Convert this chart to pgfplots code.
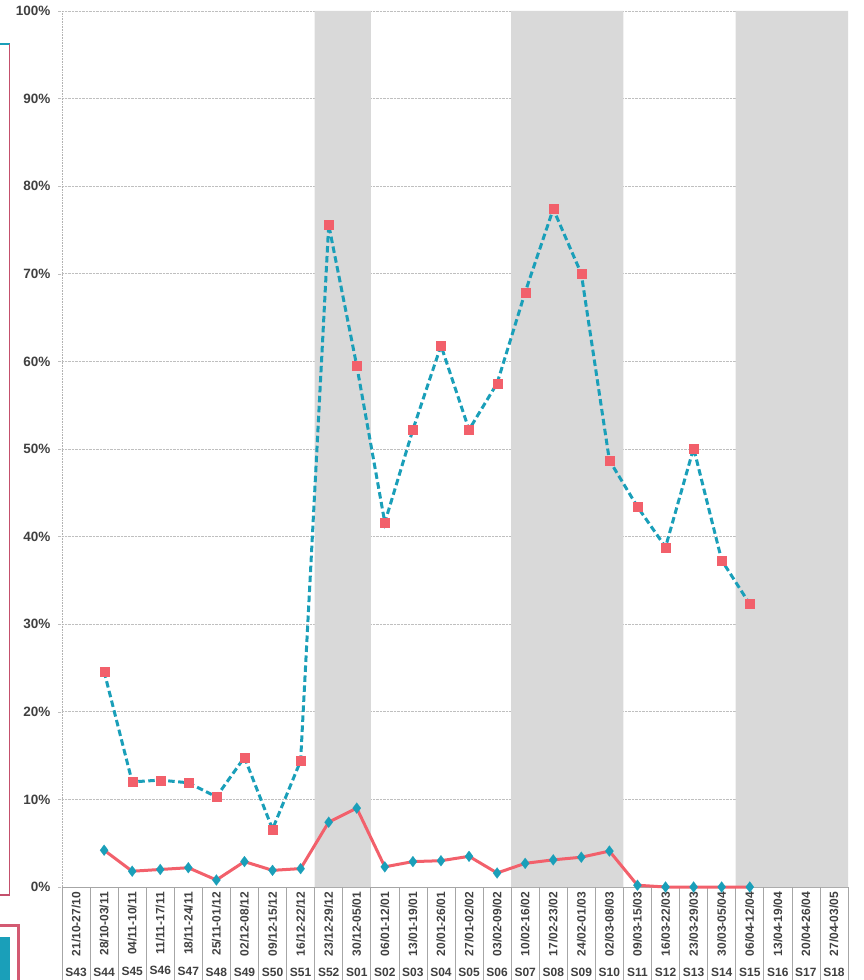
\documentclass[border=0pt]{standalone}
\usepackage{pgfplots}
\pgfplotsset{compat=1.18}
\usepackage{fontspec}
\setmainfont{Liberation Sans}
\definecolor{tealc}{HTML}{1A9FB9}
\definecolor{coral}{HTML}{F2606B}
\definecolor{band}{HTML}{D9D9D9}
\definecolor{pinkb}{HTML}{C4506C}
\definecolor{pinkc}{HTML}{D35A72}
\definecolor{txt}{HTML}{404040}
\begin{document}
\begin{tikzpicture}[x=1pt,y=1pt]
\useasboundingbox (0,0) rectangle (863,980);
% fragments of neighbouring boxes, cut off at the left edge
\draw[tealc, line width=1.5pt] (0,936) -- (9.5,936);
\draw[pinkb, line width=1.5pt] (9.5,936) -- (9.5,85) -- (0,85);
\fill[tealc] (0,0) rectangle (10,43);
\draw[pinkc, line width=3pt] (0,54) -- (18.5,54) -- (18.5,0);
\begin{axis}[
    at={(62pt,93pt)}, anchor=south west,
    scale only axis,
    width=786pt, height=876pt,
    xmin=-0.5, xmax=27.5,
    ymin=0, ymax=100,
    clip=false,
    axis lines=left,
    x axis line style={-, gray!70, line width=0.8pt},
    y axis line style={-, gray!60, densely dotted, line width=0.6pt},
    ytick={0,10,...,100},
    yticklabels={0\%,10\%,20\%,30\%,40\%,50\%,60\%,70\%,80\%,90\%,100\%},
    xmajorgrids=false, xminorgrids=false,
    ymajorgrids=true,
    y grid style={gray!50, densely dotted, line width=0.6pt},
    y tick label style={font=\fontsize{13.5}{14}\selectfont\bfseries, text=txt, xshift=-4pt},
    major y tick style={gray!50, densely dotted},
    tick align=outside,
    major tick length=4pt,
    xtick={0,...,27},
    major x tick style={draw=none},
    x tick label style={font=\fontsize{12}{12.5}\selectfont\bfseries, text=txt, align=center, anchor=north, inner sep=0pt, yshift=-1pt},
    xticklabels={
      {\rotatebox{90}{21/10-27/10}\\[8pt]S43},
      {\rotatebox{90}{28/10-03/11}\\[8pt]S44},
      {\rotatebox{90}{04/11-10/11}\\[8pt]S45},
      {\rotatebox{90}{11/11-17/11}\\[8pt]S46},
      {\rotatebox{90}{18/11-24/11}\\[8pt]S47},
      {\rotatebox{90}{25/11-01/12}\\[8pt]S48},
      {\rotatebox{90}{02/12-08/12}\\[8pt]S49},
      {\rotatebox{90}{09/12-15/12}\\[8pt]S50},
      {\rotatebox{90}{16/12-22/12}\\[8pt]S51},
      {\rotatebox{90}{23/12-29/12}\\[8pt]S52},
      {\rotatebox{90}{30/12-05/01}\\[8pt]S01},
      {\rotatebox{90}{06/01-12/01}\\[8pt]S02},
      {\rotatebox{90}{13/01-19/01}\\[8pt]S03},
      {\rotatebox{90}{20/01-26/01}\\[8pt]S04},
      {\rotatebox{90}{27/01-02/02}\\[8pt]S05},
      {\rotatebox{90}{03/02-09/02}\\[8pt]S06},
      {\rotatebox{90}{10/02-16/02}\\[8pt]S07},
      {\rotatebox{90}{17/02-23/02}\\[8pt]S08},
      {\rotatebox{90}{24/02-01/03}\\[8pt]S09},
      {\rotatebox{90}{02/03-08/03}\\[8pt]S10},
      {\rotatebox{90}{09/03-15/03}\\[8pt]S11},
      {\rotatebox{90}{16/03-22/03}\\[8pt]S12},
      {\rotatebox{90}{23/03-29/03}\\[8pt]S13},
      {\rotatebox{90}{30/03-05/04}\\[8pt]S14},
      {\rotatebox{90}{06/04-12/04}\\[8pt]S15},
      {\rotatebox{90}{13/04-19/04}\\[8pt]S16},
      {\rotatebox{90}{20/04-26/04}\\[8pt]S17},
      {\rotatebox{90}{27/04-03/05}\\[8pt]S18}},
]
% shaded periods
\addplot[fill=band, draw=none] coordinates {(8.5,0)(8.5,100)(10.5,100)(10.5,0)} \closedcycle;
\addplot[fill=band, draw=none] coordinates {(15.5,0)(15.5,100)(19.5,100)(19.5,0)} \closedcycle;
\addplot[fill=band, draw=none] coordinates {(23.5,0)(23.5,100)(27.5,100)(27.5,0)} \closedcycle;
% separators between the category labels (93pt below the axis = 10.616 units)
\pgfplotsinvokeforeach{-0.5,0.5,...,27.5}{
  \draw[gray!70, line width=0.7pt] (axis cs:#1,0) -- (axis cs:#1,-10.62);
}
% dashed series
\addplot[tealc, line width=3pt, dash pattern=on 6.5pt off 3.5pt,
    mark=square*, mark size=4.5pt, mark options={solid, fill=coral, draw=coral, line width=0.1pt}]
  coordinates {(1,24.6)(2,12.0)(3,12.2)(4,11.9)(5,10.3)(6,14.8)(7,6.6)(8,14.4)
  (9,75.6)(10,59.5)(11,41.6)(12,52.2)(13,61.8)(14,52.2)(15,57.5)(16,67.9)
  (17,77.4)(18,70.0)(19,48.7)(20,43.4)(21,38.8)(22,50.1)(23,37.3)(24,32.3)};
% solid series
\addplot[coral, line width=3pt,
    mark=diamond*, mark size=5.5pt, mark options={solid, fill=tealc, draw=tealc, line width=0.1pt}]
  coordinates {(1,4.2)(2,1.8)(3,2.0)(4,2.2)(5,0.8)(6,2.9)(7,1.9)(8,2.1)
  (9,7.4)(10,9.0)(11,2.3)(12,2.9)(13,3.0)(14,3.5)(15,1.6)(16,2.7)
  (17,3.1)(18,3.4)(19,4.1)(20,0.2)(21,0)(22,0)(23,0)(24,0)};
\end{axis}
\end{tikzpicture}
\end{document}
